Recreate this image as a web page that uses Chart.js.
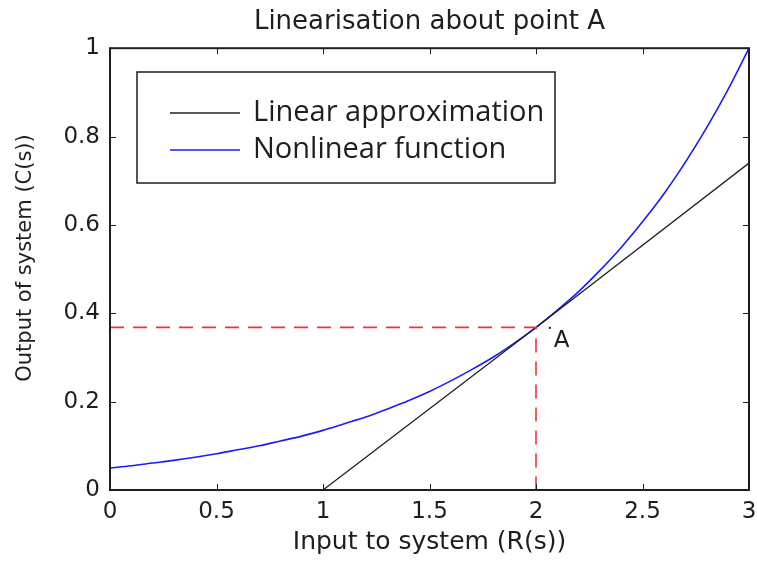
<!DOCTYPE html>
<html>
<head>
<meta charset="utf-8">
<script src="https://cdn.jsdelivr.net/npm/chart.js@4.4.1/dist/chart.umd.min.js"></script>
<style>
  html, body { margin: 0; padding: 0; background: #fff; }
  #chart { display: block; }
</style>
</head>
<body>
<canvas id="chart" width="757" height="561"></canvas>
<script>
// values
const nonlinearX = [0, 0.1, 0.2, 0.3, 0.4, 0.5, 0.6, 0.7, 0.8, 0.9, 1.0,
    1.1, 1.2, 1.3, 1.4, 1.5, 1.6, 1.7, 1.8, 1.9, 2.0,
    2.1, 2.2, 2.3, 2.4, 2.5, 2.6, 2.7, 2.8, 2.9, 3.0];
const nonlinearY = [0.050, 0.055, 0.061, 0.067, 0.074, 0.082, 0.091, 0.100, 0.111, 0.122, 0.135,
    0.150, 0.165, 0.183, 0.202, 0.223, 0.247, 0.273, 0.301, 0.333, 0.368,
    0.407, 0.449, 0.497, 0.549, 0.607, 0.670, 0.741, 0.819, 0.905, 1.000];

const linearX = [1, 2, 3];
const linearY = [0, 0.368, 0.74];

const guideX = [0, 2, 2];
const guideY = [0.368, 0.368, 0];

const pointDot = [2.065, 0.367];
const pointLabel = [2.12, 0.337];

const yTitle = 'Output of system (C(s))';

const toPoints = (xs, ys) => xs.map((x, i) => ({ x, y: ys[i] }));

const ink = '#1e1e1e';

// MATLAB style box with ticks pointing inwards on all four sides
const framePlugin = {
    id: 'frame',
    afterDatasetsDraw(chart) {
        const { ctx, chartArea: a, scales } = chart;
        ctx.save();
        ctx.strokeStyle = ink;
        ctx.lineWidth = 1;
        const len = 6;
        ctx.beginPath();
        scales.x.ticks.forEach(t => {
            const px = Math.round(scales.x.getPixelForValue(t.value)) + 0.5;
            ctx.moveTo(px, a.bottom); ctx.lineTo(px, a.bottom - len);
            ctx.moveTo(px, a.top); ctx.lineTo(px, a.top + len);
        });
        scales.y.ticks.forEach(t => {
            const py = Math.round(scales.y.getPixelForValue(t.value)) + 0.5;
            ctx.moveTo(a.left, py); ctx.lineTo(a.left + len, py);
            ctx.moveTo(a.right, py); ctx.lineTo(a.right - len, py);
        });
        ctx.stroke();
        ctx.lineWidth = 2;
        ctx.strokeRect(a.left, a.top, a.right - a.left, a.bottom - a.top);

        // point A marker
        const dx = scales.x.getPixelForValue(pointDot[0]);
        const dy = scales.y.getPixelForValue(pointDot[1]);
        ctx.fillStyle = ink;
        ctx.fillRect(dx - 1, dy - 1, 2, 2);
        ctx.font = '23px "DejaVu Sans"';
        ctx.textAlign = 'center';
        ctx.textBaseline = 'middle';
        ctx.fillText('A', scales.x.getPixelForValue(pointLabel[0]), scales.y.getPixelForValue(pointLabel[1]));

        // y axis title, drawn by hand so it can sit a little above centre like the original
        ctx.translate(26, 258);
        ctx.rotate(-Math.PI / 2);
        ctx.font = '21px "DejaVu Sans"';
        ctx.fillText(yTitle, 0, 0);
        ctx.restore();
    }
};

const legendPlugin = {
    id: 'boxLegend',
    afterDraw(chart) {
        const { ctx } = chart;
        const items = chart.data.datasets.filter(d => d.showInLegend);
        ctx.save();
        ctx.fillStyle = '#fff';
        ctx.fillRect(137, 72, 418, 111);
        ctx.strokeStyle = ink;
        ctx.lineWidth = 1.5;
        ctx.strokeRect(137, 72, 418, 111);
        ctx.font = '29px "Open Sans"';
        ctx.textBaseline = 'middle';
        ctx.textAlign = 'left';
        items.forEach((d, i) => {
            const y = 113 + i * 37;
            ctx.strokeStyle = d.borderColor;
            ctx.lineWidth = 1.5;
            ctx.beginPath();
            ctx.moveTo(170, y);
            ctx.lineTo(240, y);
            ctx.stroke();
            ctx.fillStyle = ink;
            ctx.fillText(d.label, 253, y);
        });
        ctx.restore();
    }
};

const tickFont = { family: 'DejaVu Sans', size: 23 };
const titleFont = { family: 'DejaVu Sans', size: 25 };
const plainNumber = v => String(v);

new Chart(document.getElementById('chart'), {
    type: 'scatter',
    data: {
        datasets: [
            {
                label: 'Guide',
                data: toPoints(guideX, guideY),
                showLine: true,
                borderColor: '#f0303a',
                borderWidth: 1.6,
                borderDash: [14, 9],
                pointRadius: 0
            },
            {
                label: 'Linear approximation',
                data: toPoints(linearX, linearY),
                showLine: true,
                showInLegend: true,
                borderColor: '#222222',
                borderWidth: 1.3,
                pointRadius: 0
            },
            {
                label: 'Nonlinear function',
                data: toPoints(nonlinearX, nonlinearY),
                showLine: true,
                showInLegend: true,
                borderColor: '#1a1aff',
                borderWidth: 1.6,
                cubicInterpolationMode: 'monotone',
                pointRadius: 0
            }
        ]
    },
    options: {
        responsive: false,
        animation: false,
        devicePixelRatio: 1,
        layout: { padding: { left: 0, right: 0, top: 0, bottom: 0 } },
        plugins: {
            legend: { display: false },
            tooltip: { enabled: false },
            title: {
                display: true,
                fullSize: false,
                text: 'Linearisation about point A',
                color: ink,
                font: { family: 'DejaVu Sans', size: 26, weight: 'normal' },
                padding: { top: 7, bottom: 10 }
            }
        },
        scales: {
            x: {
                type: 'linear',
                min: 0,
                max: 3,
                ticks: { stepSize: 0.5, color: ink, font: tickFont, padding: 8, maxRotation: 0, callback: plainNumber },
                grid: { display: false, drawTicks: false },
                border: { display: false },
                title: {
                    display: true,
                    text: 'Input to system (R(s))',
                    color: ink,
                    font: titleFont,
                    padding: { top: 0, bottom: 4 }
                },
                afterFit(scale) {
                    scale.height = 71;
                    scale.paddingRight = 8;
                }
            },
            y: {
                type: 'linear',
                min: 0,
                max: 1,
                ticks: { stepSize: 0.2, color: ink, font: tickFont, padding: 10, callback: plainNumber },
                grid: { display: false, drawTicks: false },
                border: { display: false },
                afterFit(scale) { scale.width = 110; }
            }
        }
    },
    plugins: [framePlugin, legendPlugin]
});
</script>
</body>
</html>
